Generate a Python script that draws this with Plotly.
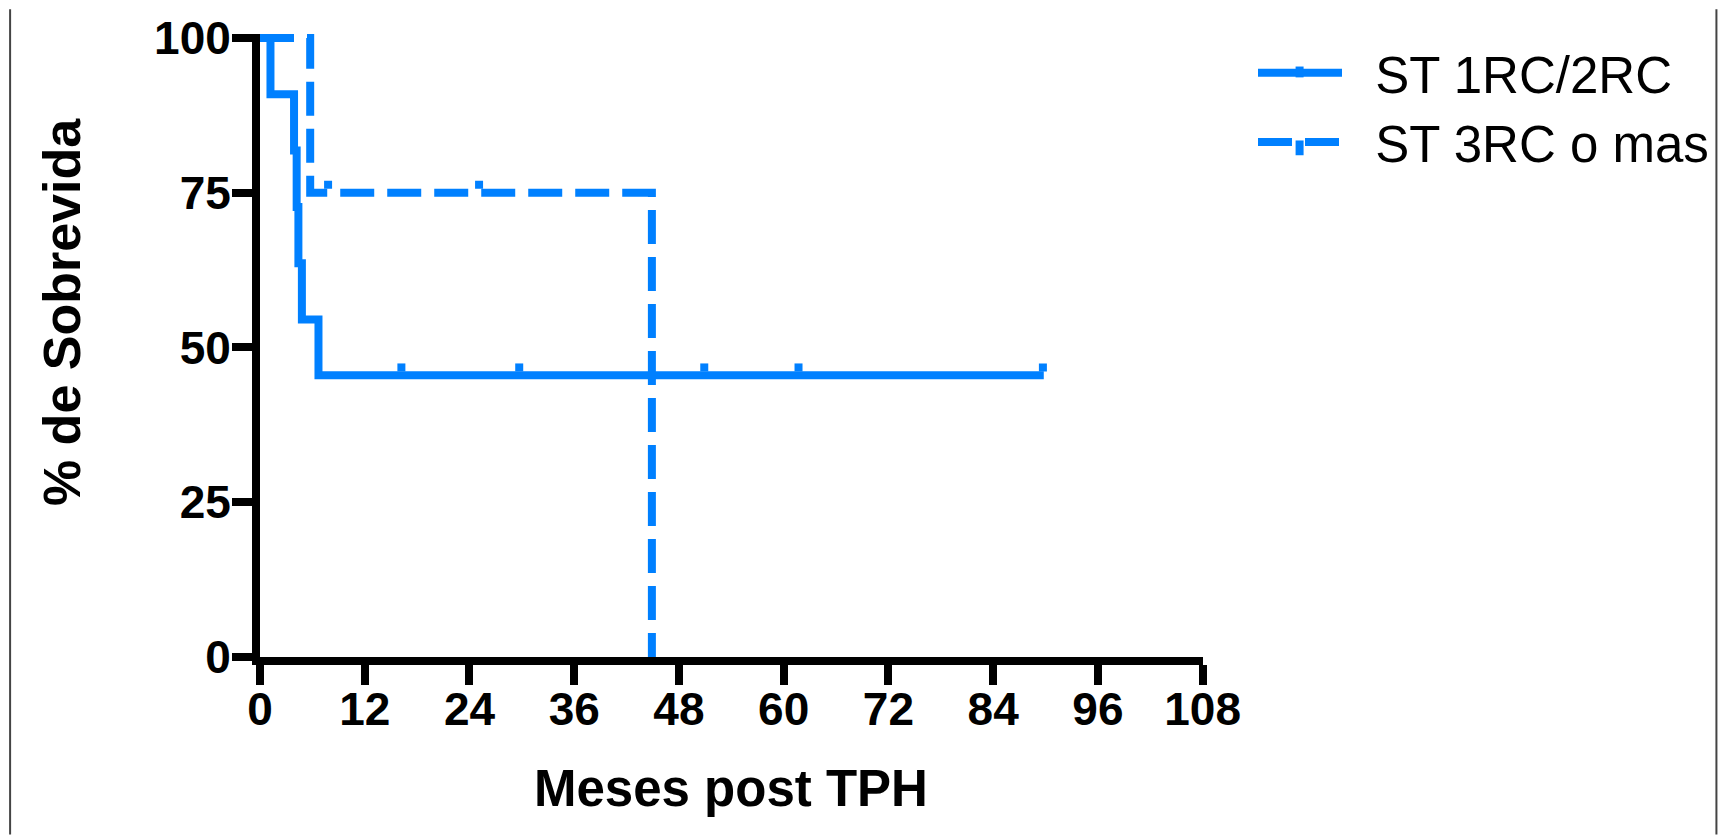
import plotly.graph_objects as go

# Kaplan-Meier survival data (months after transplant, % surviving)
months_1rc = [0, 1.2, 3.9, 4.2, 4.4, 4.8, 6.7, 89.8]
surv_1rc = [100, 90.9, 81.8, 72.7, 63.6, 54.5, 45.5, 45.5]
censor_1rc_months = [16.2, 29.7, 50.9, 61.7, 89.7]
censor_1rc_surv = [45.5, 45.5, 45.5, 45.5, 45.5]

months_3rc = [0, 5.75, 44.9]
surv_3rc = [100, 75, 0]
censor_3rc_months = [7.8, 25.1]
censor_3rc_surv = [75, 75]

series_names = ["ST 1RC/2RC", "ST 3RC o mas"]
x_ticks = [0, 12, 24, 36, 48, 60, 72, 84, 96, 108]
y_ticks = [0, 25, 50, 75, 100]

BLUE = "#0080FF"
W, H = 1724, 837
LINE_W = 8
HALF = LINE_W / 2

# plot area (pixels): data 0..108 months across, 0..100 % up
ML, MR = 260, 521
MT, MB = 25, 180
PLOT_W = W - ML - MR
PLOT_H = H - MT - MB

X_RANGE = [0, 108]
# a little headroom above 100 % so the top step is not clipped
px_per_unit = (PLOT_H - HALF) / 100
Y_RANGE = [0, 100 + HALF / px_per_unit]

# censor ticks sit just above the curve
tick_off = LINE_W / px_per_unit

FONT = "Liberation Sans, Arial, sans-serif"


def paper_x(px):
    return (px - ML) / PLOT_W


def paper_y(py):
    return ((H - MB) - py) / PLOT_H


fig = go.Figure()
fig.add_trace(go.Scatter(
    x=months_1rc, y=surv_1rc, mode="lines", line_shape="hv",
    line=dict(color=BLUE, width=LINE_W),
    name="\u00a0\u00a0" + series_names[0], legendgroup="a"))
fig.add_trace(go.Scatter(
    x=censor_1rc_months, y=[v + tick_off for v in censor_1rc_surv],
    mode="markers", marker=dict(symbol="square", size=LINE_W, color=BLUE,
                                line=dict(width=0)),
    showlegend=False, legendgroup="a", hoverinfo="skip"))
fig.add_trace(go.Scatter(
    x=months_3rc, y=surv_3rc, mode="lines", line_shape="hv",
    line=dict(color=BLUE, width=LINE_W, dash="34px,13px"),
    name="\u00a0\u00a0" + series_names[1], legendgroup="b"))
fig.add_trace(go.Scatter(
    x=censor_3rc_months, y=[v + tick_off for v in censor_3rc_surv],
    mode="markers", marker=dict(symbol="square", size=LINE_W, color=BLUE,
                                line=dict(width=0)),
    showlegend=False, legendgroup="b", hoverinfo="skip"))

axis_common = dict(
    showgrid=False, zeroline=False, showline=True, linecolor="black",
    linewidth=LINE_W, ticks="outside", tickcolor="black", tickwidth=LINE_W,
    ticklen=20, tickfont=dict(family=FONT, size=46, color="black",
                              weight="bold"),
    fixedrange=True,
)

fig.update_xaxes(range=X_RANGE, tickvals=x_ticks, ticklabelstandoff=-15,
                 **axis_common)
fig.update_yaxes(range=Y_RANGE, tickvals=y_ticks, ticklabelstandoff=-8,
                 **axis_common)

fig.add_annotation(
    text="Meses post TPH", xref="paper", yref="paper", x=0.5,
    y=paper_y(790), xanchor="center", yanchor="middle", showarrow=False,
    font=dict(family=FONT, size=51, color="black", weight="bold"))
fig.add_annotation(
    text="% de Sobrevida", xref="paper", yref="paper",
    x=paper_x(62), y=paper_y(307),
    xanchor="center", yanchor="middle", textangle=-90, showarrow=False,
    font=dict(family=FONT, size=52, color="black", weight="bold"))

# censor glyphs on the legend line samples
fig.add_shape(type="rect", xref="paper", yref="paper",
              x0=paper_x(1296), x1=paper_x(1304),
              y0=paper_y(69), y1=paper_y(58),
              fillcolor=BLUE, line=dict(width=0))
fig.add_shape(type="rect", xref="paper", yref="paper",
              x0=paper_x(1296), x1=paper_x(1304),
              y0=paper_y(148), y1=paper_y(133),
              fillcolor=BLUE, line=dict(width=0))

# thin frame lines at the page edges
for xp in (10, 1717):
    fig.add_shape(type="line", xref="paper", yref="paper",
                  x0=paper_x(xp), x1=paper_x(xp),
                  y0=paper_y(H), y1=paper_y(0),
                  line=dict(color="#444444", width=2))

fig.update_layout(
    width=W, height=H,
    margin=dict(l=ML, r=MR, t=MT, b=MB, pad=0),
    plot_bgcolor="white", paper_bgcolor="white",
    showlegend=True,
    legend=dict(xref="container", yref="container", x=1253 / W,
                y=1 - 33 / H, xanchor="left", yanchor="top",
                font=dict(family=FONT, size=51, color="black"),
                itemwidth=84, tracegroupgap=0, bgcolor="rgba(0,0,0,0)"),
)

fig.write_html("out.html")
